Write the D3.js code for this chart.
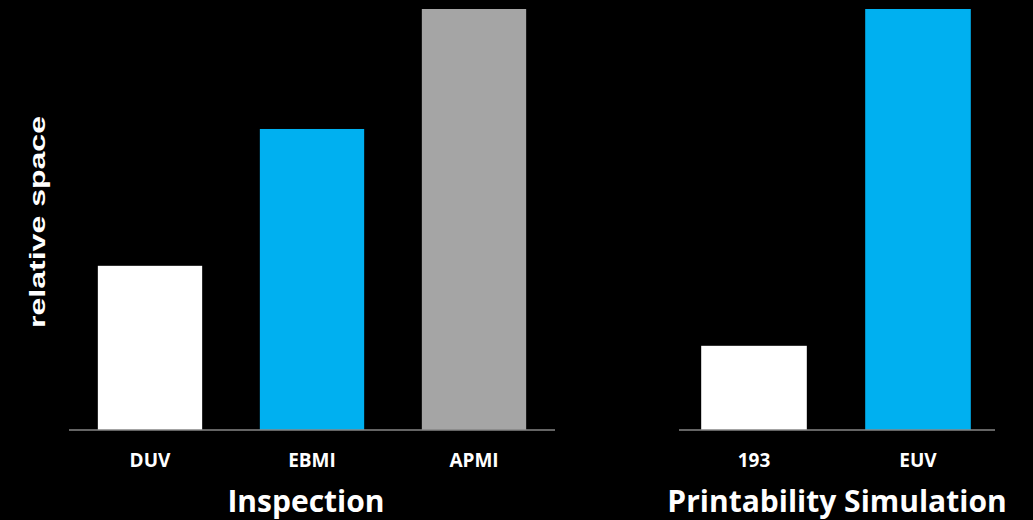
<!DOCTYPE html>
<html>
<head>
<meta charset="utf-8">
<script src="https://cdn.jsdelivr.net/npm/d3@7"></script>
<style>
  html, body { margin: 0; padding: 0; background: #000; }
  svg { display: block; }
</style>
</head>
<body>
<svg id="chart" width="1033" height="520"></svg>
<script>
// ---- data ----
const inspectionCategories = ["DUV", "EBMI", "APMI"];
const inspectionValues = [39, 71.5, 100];
const printCategories = ["193", "EUV"];
const printValues = [20, 100];
const yLabel = "relative space";
const panelTitles = ["Inspection", "Printability Simulation"];

const colorMap = {
  "DUV": "#FFFFFF", "EBMI": "#00B0F0", "APMI": "#A5A5A5",
  "193": "#FFFFFF", "EUV": "#00B0F0"
};

const svg = d3.select("#chart");
svg.append("rect").attr("width", 1033).attr("height", 520).attr("fill", "#000");

const baseY = 430, topY = 9;
const y = d3.scaleLinear().domain([0, 100]).range([baseY, topY]);

function panel(cats, vals, range, axisRange, title, titleX) {
  const x = d3.scaleBand().domain(cats).range(range)
    .paddingInner(0.356).paddingOuter(0.178);
  const g = svg.append("g");
  g.selectAll("rect.bar").data(cats).enter().append("rect")
    .attr("class", "bar")
    .attr("x", d => x(d))
    .attr("width", x.bandwidth())
    .attr("y", (d, i) => y(vals[i]))
    .attr("height", (d, i) => y(0) - y(vals[i]))
    .attr("fill", d => colorMap[d]);
  g.append("line")
    .attr("x1", axisRange[0]).attr("x2", axisRange[1])
    .attr("y1", baseY).attr("y2", baseY)
    .attr("stroke", "#868686").attr("stroke-width", 1.5);
  g.selectAll("text.cat").data(cats).enter().append("text")
    .attr("class", "cat")
    .attr("x", d => x(d) + x.bandwidth() / 2)
    .attr("y", 467)
    .attr("text-anchor", "middle")
    .attr("fill", "#FFFFFF")
    .attr("font-family", "'Open Sans', sans-serif")
    .attr("font-weight", 700)
    .attr("font-size", 19)
    .text(d => d);
  g.append("text")
    .attr("x", titleX).attr("y", 512)
    .attr("text-anchor", "middle")
    .attr("fill", "#FFFFFF")
    .attr("font-family", "'Open Sans', sans-serif")
    .attr("font-weight", 700)
    .attr("font-size", 30)
    .text(title);
}

panel(inspectionCategories, inspectionValues, [69, 555], [69, 555], panelTitles[0], 306);
panel(printCategories, printValues, [672, 1000], [679, 995], panelTitles[1], 837);

svg.append("text")
  .attr("transform", "translate(45,222) rotate(-90)")
  .attr("text-anchor", "middle")
  .attr("fill", "#FFFFFF")
  .attr("font-family", "'Liberation Sans', Arial, sans-serif")
  .attr("font-weight", 700)
  .attr("font-size", 22)
  .attr("textLength", 212)
  .attr("lengthAdjust", "spacingAndGlyphs")
  .text(yLabel);
</script>
</body>
</html>
